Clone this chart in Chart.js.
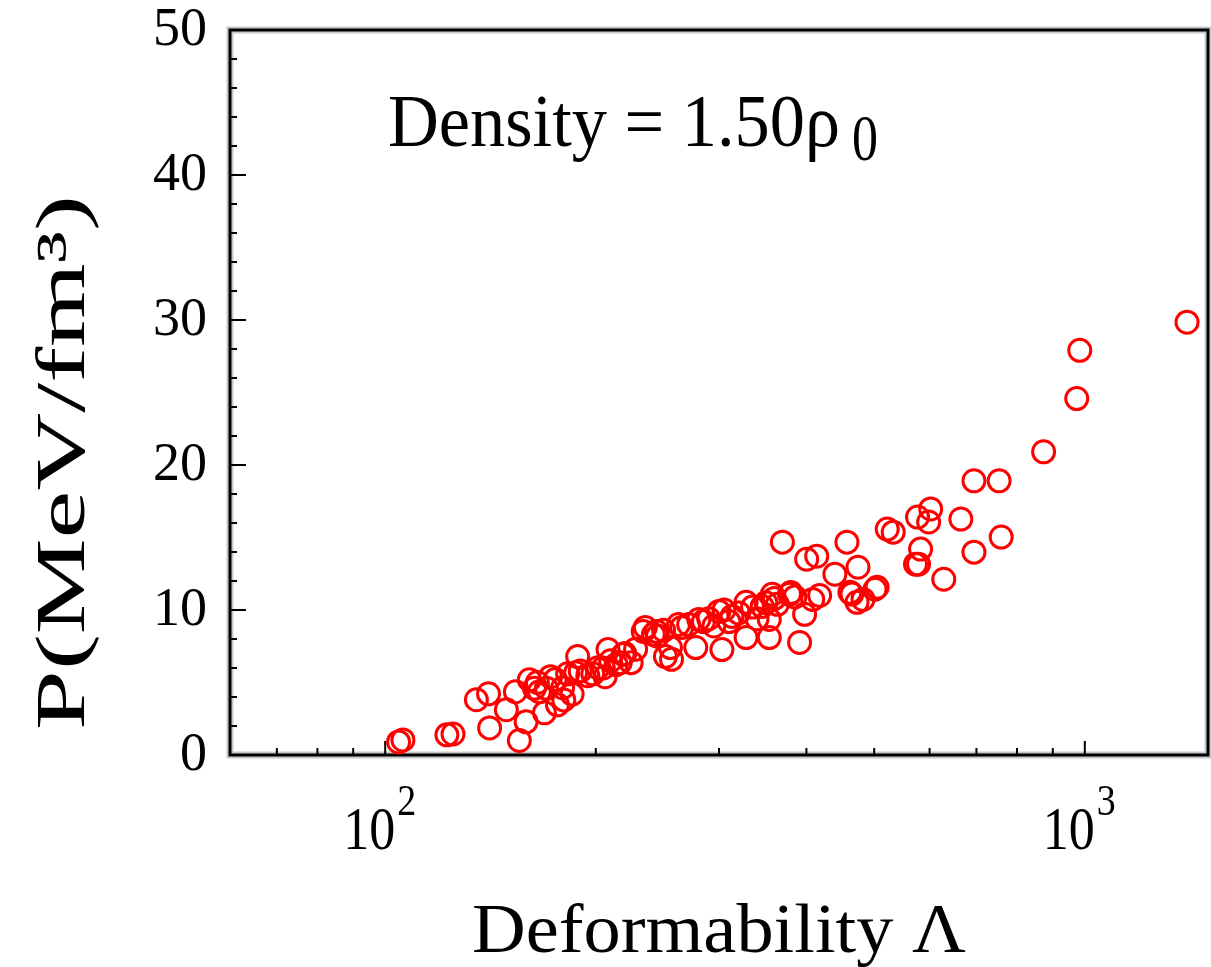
<!DOCTYPE html>
<html lang="en">
<head>
    <meta charset="UTF-8">
    <title>Pressure vs Deformability</title>
    <script src="https://cdn.jsdelivr.net/npm/chart.js"></script>
    <style>
        body { margin: 0; background: #fff; }
        canvas { display: block; }
    </style>
</head>
<body>
    <canvas id="chart" width="1211" height="967"></canvas>
    <script>
        // tidal deformability (x, log axis) and pressure in MeV/fm^3 (y)
        const lambda = [
            104.5, 106, 122.5, 125, 135, 140.5, 141, 149, 153.5, 155.5, 159,
            160.7, 163.4, 166.1, 168.9, 172.3, 176.3, 179.3, 182.3, 165, 170, 175, 180, 185,
            187.2, 188.4, 194.8, 201.4, 206.2, 208.2, 213.8, 216.7, 218.8, 224.7, 190, 198, 205, 210, 220, 228,
            233.8, 235.4, 241.7, 244.1, 251.5, 255.7, 256.6, 262.6, 265.3, 271.5, 277.9, 280.7, 245, 250,
            285, 290, 295, 305, 310, 320, 335, 340, 350, 360, 380, 385,
            299.9, 302.9, 313.1, 328.0, 328.0, 345.8, 354.0, 354.0, 357.5, 363.5, 369.6, 378.3, 391.1, 397.6, 400.3, 408.3, 413.8,
            417.8, 439.3, 457.1, 461.6, 464.6, 472.5, 474.0, 481.9, 501.4, 504.8,
            521.9, 532.3, 572.8, 576.6, 578.5, 582.4, 598.1, 602.1, 628.6, 665.0, 694.3, 694.3, 754.3, 759.4,
            873.2, 973.8, 983.5, 1400
        ];
        const pressure = [
            0.90, 1.04, 1.39, 1.45, 3.81, 4.22, 1.87, 3.12, 4.36, 1.00, 2.29,
            5.19, 4.60, 4.36, 2.91, 5.40, 3.46, 4.64, 5.60, 5.00, 4.60, 5.20, 3.80, 4.20,
            5.68, 6.79, 5.47, 6.02, 5.40, 7.27, 6.23, 6.37, 6.93, 6.37, 5.80, 5.60, 6.00, 6.50, 7.00, 7.30,
            8.52, 8.80, 8.31, 8.52, 6.79, 7.41, 6.60, 9.00, 8.80, 9.00, 7.41, 9.35, 8.20, 8.60,
            9.20, 9.40, 8.90, 10.00, 9.20, 9.80, 10.20, 9.40, 10.50, 10.80, 11.20, 10.90,
            9.90, 7.27, 9.56, 8.10, 10.53, 10.25, 8.10, 9.35, 11.08, 10.39, 14.68, 11.08, 7.76, 9.70, 13.50, 10.73, 13.71,
            11.00, 12.47, 14.68, 11.22, 11.10, 10.53, 12.95, 10.73, 11.43, 11.57,
            15.58, 15.37, 13.16, 16.41, 13.16, 14.20, 16.07, 16.97, 12.12, 16.27, 18.91, 13.99, 18.91, 15.03,
            20.91, 24.58, 27.91, 29.85
        ];
        const yTicks = [0, 10, 20, 30, 40, 50];
        const xTickValues = [70, 80, 90, 100, 200, 300, 400, 500, 600, 700, 800, 900, 1000];
        const xMajor = [100, 1000];
        const xLabelExp = ['2', '3'];

        const serif = '"Liberation Serif", "DejaVu Serif", serif';

        function fitText(ctx, txt, x, y, w, size) {
            ctx.font = size + 'px ' + serif;
            const m = ctx.measureText(txt).width;
            ctx.save();
            ctx.translate(x, y);
            ctx.scale(w / m, 1);
            ctx.textAlign = 'left';
            ctx.textBaseline = 'alphabetic';
            ctx.fillText(txt, 0, 0);
            ctx.restore();
        }

        const framePlugin = {
            id: 'frame',
            beforeDatasetsDraw(chart) {
                const ctx = chart.ctx, a = chart.chartArea;
                const xs = chart.scales.x, ys = chart.scales.y;
                ctx.save();
                // grey shadow, then black frame
                ctx.strokeStyle = '#c8c8c8';
                ctx.lineWidth = 7;
                ctx.strokeRect(a.left, a.top, a.right - a.left, a.bottom - a.top);
                ctx.strokeStyle = '#000';
                ctx.lineWidth = 3;
                ctx.strokeRect(a.left, a.top, a.right - a.left, a.bottom - a.top);
                // inward ticks
                ctx.lineWidth = 2;
                ctx.beginPath();
                for (let v = 0; v <= 50; v += 2) {
                    const y = ys.getPixelForValue(v);
                    const len = v % 10 === 0 ? 16 : 7;
                    ctx.moveTo(a.left, y);
                    ctx.lineTo(a.left + len, y);
                }
                xTickValues.forEach(v => {
                    const x = xs.getPixelForValue(v);
                    const len = xMajor.includes(v) ? 14 : 7;
                    ctx.moveTo(x, a.bottom);
                    ctx.lineTo(x, a.bottom - len);
                });
                ctx.stroke();
                ctx.restore();
            },
            afterDraw(chart) {
                const ctx = chart.ctx, a = chart.chartArea;
                const xs = chart.scales.x, ys = chart.scales.y;
                ctx.save();
                ctx.fillStyle = '#000';
                // y tick labels
                ctx.font = '54px ' + serif;
                ctx.textAlign = 'right';
                ctx.textBaseline = 'middle';
                yTicks.forEach(v => {
                    ctx.fillText(String(v), a.left - 23, ys.getPixelForValue(v) + 1);
                });
                // x tick labels 10^2, 10^3
                xMajor.forEach((v, i) => {
                    const x = xs.getPixelForValue(v);
                    fitText(ctx, '10', x - 42, 849, 52, 62);
                    fitText(ctx, xLabelExp[i], x + 12, 815, 19, 44);
                });
                // axis titles
                fitText(ctx, 'Deformability \u039B', 472, 952, 494, 70);
                ctx.save();
                ctx.translate(84, 730);
                ctx.rotate(-Math.PI / 2);
                fitText(ctx, 'P(MeV/fm\u00B3)', 0, 0, 535, 70);
                ctx.restore();
                // annotation
                fitText(ctx, 'Density = 1.50\u03C1', 388, 146, 452, 74);
                fitText(ctx, '0', 852, 160, 26, 66);
                ctx.restore();
            }
        };

        new Chart(document.getElementById('chart'), {
            type: 'scatter',
            data: {
                datasets: [{
                    data: lambda.map((x, i) => ({ x: x, y: pressure[i] })),
                    pointRadius: 11,
                    pointBorderWidth: 3,
                    borderColor: '#ff0000',
                    backgroundColor: 'rgba(0,0,0,0)',
                    pointHoverRadius: 11
                }]
            },
            options: {
                responsive: false,
                animation: false,
                events: [],
                layout: { autoPadding: false, padding: { top: 30, right: 3, left: 0, bottom: 0 } },
                plugins: { legend: { display: false }, tooltip: { enabled: false } },
                scales: {
                    x: {
                        type: 'logarithmic',
                        min: 60,
                        max: 1500,
                        border: { display: false },
                        grid: { display: false, drawTicks: false },
                        ticks: { display: false },
                        afterFit: s => { s.height = 212; }
                    },
                    y: {
                        min: 0,
                        max: 50,
                        border: { display: false },
                        grid: { display: false, drawTicks: false },
                        ticks: { display: false },
                        afterFit: s => { s.width = 230; }
                    }
                }
            },
            plugins: [framePlugin]
        });
    </script>
</body>
</html>
